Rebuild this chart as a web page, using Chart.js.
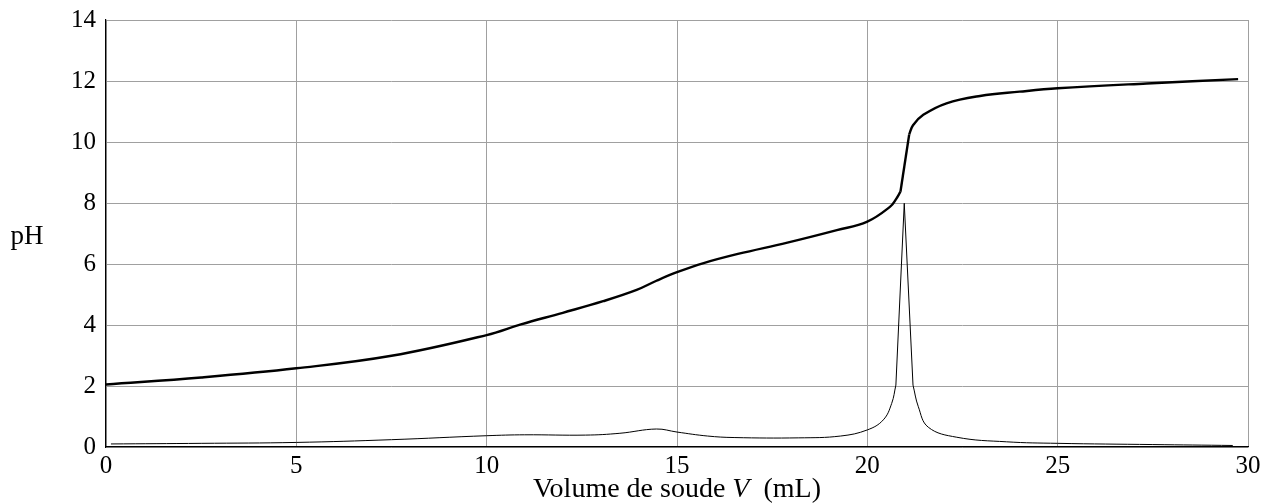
<!DOCTYPE html>
<html>
<head>
<meta charset="utf-8">
<script src="https://cdn.jsdelivr.net/npm/chart.js@4.4.1/dist/chart.umd.min.js"></script>
<style>
    html, body { margin: 0; padding: 0; background: #fff; }
    #wrap { width: 1270px; height: 503px; }
</style>
</head>
<body>
<div id="wrap"><canvas id="titrageChart" width="1270" height="503"></canvas></div>
<script>
// courbe pH = f(V)
const volPH = [0, 2.5, 5, 7.5, 10, 10.9, 12, 13.06, 13.94, 14.46, 15, 15.7, 16.6, 17.9, 19.2, 20, 20.6, 20.75, 20.87,
    21.1, 21.2, 21.47, 22.08, 22.96, 24.0, 25, 27.34, 29.74];
const valPH = [2.05, 2.28, 2.58, 2.99, 3.67, 4.02, 4.4, 4.78, 5.15, 5.45, 5.73, 6.03, 6.33, 6.7, 7.11, 7.39, 7.88, 8.12, 8.37,
    10.25, 10.55, 10.89, 11.27, 11.51, 11.65, 11.76, 11.92, 12.06];

// courbe derivee dpH/dV
const volDer = [0.13, 2.5, 5, 7.5, 10, 11, 12.6, 13.5, 14.46, 15, 15.8, 16.5, 18.2, 19.3, 20, 20.42, 20.64, 20.75,
    20.97, 21.2, 21.34, 21.6, 22.35, 23.66, 25, 27.5, 29.6];
const valDer = [0.1, 0.12, 0.15, 0.24, 0.37, 0.4, 0.39, 0.45, 0.59, 0.49, 0.36, 0.31, 0.3, 0.36, 0.56, 0.89, 1.43, 2.03,
    7.99, 2.03, 1.32, 0.65, 0.32, 0.17, 0.12, 0.08, 0.05];

const xTicks = [0, 5, 10, 15, 20, 25, 30];
const yTicks = [0, 2, 4, 6, 8, 10, 12, 14];

const SERIF = '"Liberation Serif", "DejaVu Serif", serif';

function pts(xs, ys, from, to) {
    const out = [];
    for (let i = from; i <= to; i++) out.push({ x: xs[i], y: ys[i] });
    return out;
}

function lineDs(data, width, smooth) {
    return {
        data: data,
        borderColor: '#000',
        borderWidth: width,
        pointRadius: 0,
        fill: false,
        tension: smooth ? 0.4 : 0
    };
}

const iKnee1 = volPH.indexOf(20.87);
const iKnee2 = volPH.indexOf(21.1);
const iBase1 = volDer.indexOf(20.75);
const iBase2 = volDer.indexOf(21.2);

const axisLabels = {
    id: 'axisLabels',
    afterDraw(chart) {
        const ctx = chart.ctx;
        ctx.save();
        ctx.fillStyle = '#000';
        ctx.textBaseline = 'middle';
        ctx.font = '27px ' + SERIF;
        ctx.textAlign = 'center';
        ctx.fillText('pH', 27, 237);

        const parts = [
            { t: 'Volume de soude ', f: '28px ' + SERIF },
            { t: 'V', f: 'italic 28px ' + SERIF },
            { t: '  (mL)', f: '28px ' + SERIF }
        ];
        let total = 0;
        parts.forEach((p) => { ctx.font = p.f; p.w = ctx.measureText(p.t).width; total += p.w; });
        const area = chart.chartArea;
        let x = (area.left + area.right) / 2 - total / 2;
        ctx.textAlign = 'left';
        parts.forEach((p) => { ctx.font = p.f; ctx.fillText(p.t, x, 490); x += p.w; });
        ctx.restore();
    }
};

const canvas = document.getElementById('titrageChart');
const titrageChart = new Chart(canvas.getContext('2d'), {
    type: 'line',
    data: {
        datasets: [
            lineDs(pts(volPH, valPH, 0, iKnee1), 2.4, true),
            lineDs(pts(volPH, valPH, iKnee1, iKnee2), 2.4, false),
            lineDs(pts(volPH, valPH, iKnee2, volPH.length - 1), 2.4, true),
            lineDs(pts(volDer, valDer, 0, iBase1), 1, true),
            lineDs(pts(volDer, valDer, iBase1, iBase2), 1, false),
            lineDs(pts(volDer, valDer, iBase2, volDer.length - 1), 1, true)
        ]
    },
    options: {
        responsive: false,
        animation: false,
        events: [],
        layout: { padding: { left: 0, right: 22, top: 20, bottom: 0 } },
        plugins: { legend: { display: false }, tooltip: { enabled: false } },
        scales: {
            x: {
                type: 'linear',
                min: 0,
                max: 30,
                afterBuildTicks: (s) => { s.ticks = xTicks.map((v) => ({ value: v })); },
                afterFit: (s) => { s.height = 56; s.paddingLeft = 0; s.paddingRight = 0; },
                grid: { color: '#a0a0a0', lineWidth: 1, drawTicks: false },
                border: { color: '#000', width: 1.2 },
                ticks: { color: '#000', padding: 4, maxRotation: 0, font: { family: SERIF, size: 25 } }
            },
            y: {
                type: 'linear',
                min: 0,
                max: 14,
                afterBuildTicks: (s) => { s.ticks = yTicks.map((v) => ({ value: v })); },
                afterFit: (s) => { s.width = 106; s.paddingTop = 0; s.paddingBottom = 0; },
                grid: { color: '#a0a0a0', lineWidth: 1, drawTicks: false },
                border: { color: '#000', width: 1.2 },
                ticks: { color: '#000', padding: 10, font: { family: SERIF, size: 25 } }
            }
        }
    },
    plugins: [axisLabels]
});
</script>
</body>
</html>
